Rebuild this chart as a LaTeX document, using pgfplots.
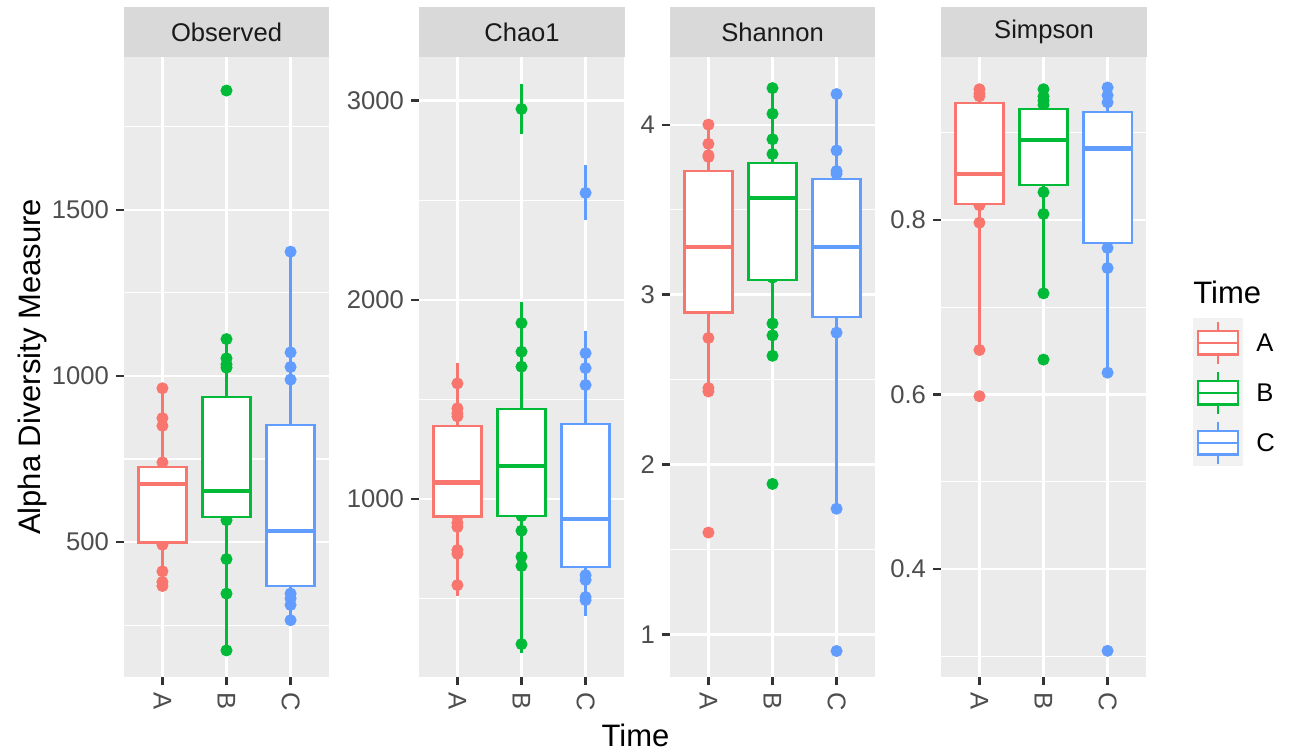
\documentclass[border=0pt]{standalone}
\usepackage{fontspec}
\setmainfont{Liberation Sans}
\usepackage{pgfplots}
\pgfplotsset{compat=1.18}
\definecolor{cA}{HTML}{F8766D}
\definecolor{cB}{HTML}{00BA38}
\definecolor{cC}{HTML}{619CFF}
\definecolor{panelbg}{HTML}{EBEBEB}
\definecolor{stripbg}{HTML}{D9D9D9}
\definecolor{keybg}{HTML}{F2F2F2}
\definecolor{tickc}{HTML}{333333}
\definecolor{labc}{HTML}{4D4D4D}
\definecolor{stript}{HTML}{1A1A1A}
\newcommand{\tickfont}{\fontsize{12.8}{15}\selectfont}
\newcommand{\titlefont}{\fontsize{15.5}{18}\selectfont}
\pgfplotsset{
 panel/.style={
  scale only axis, width=102.5pt, height=310pt, anchor=south west,
  axis background/.style={fill=panelbg},
  axis line style={draw=none},
  clip marker paths=true,
  xmin=0.4, xmax=3.6, xtick={1,2,3}, xticklabels={A,B,C},
  tick pos=left, tick align=outside, major tick length=4pt,
  minor tick length=0pt,
  tick style={tickc, line width=1.1pt},
  xmajorgrids, ymajorgrids, yminorgrids,
  major grid style={white, line width=1.1pt},
  minor grid style={white, line width=0.55pt},
  tick label style={font=\tickfont, color=labc},
  xticklabel style={rotate=-90, anchor=west},
  /pgf/number format/assume math mode=true,
  yticklabel style={/pgf/number format/fixed, /pgf/number format/1000 sep={}},
 },
 pts/.style={only marks, mark=*, mark size=2.8pt, color=#1, mark options={solid, fill=#1, draw=#1}},
 ebpts/.style={pts=#1, error bars/.cd, y dir=both, y explicit,
   error bar style={#1, line width=1.1pt},
   error mark options={#1, line width=1.1pt, mark size=1.6pt}},
}
% box: color, left, centre, right, lower whisker, lower quartile, median, upper quartile, upper whisker
\newcommand{\bx}[9]{%
 \addplot[#1, line width=1.1pt] coordinates {(#3,#5)(#3,#6)};
 \addplot[#1, line width=1.1pt] coordinates {(#3,#8)(#3,#9)};
 \addplot[draw=#1, fill=white, line width=1.1pt] coordinates {(#2,#6)(#4,#6)(#4,#8)(#2,#8)} -- cycle;
 \addplot[#1, line width=2.2pt] coordinates {(#2,#7)(#4,#7)};
}
\begin{document}
\begin{tikzpicture}

% ---------------- Observed ----------------
\begin{axis}[panel, at={(62pt,39pt)}, ymin=94, ymax=1960,
  ytick={500,1000,1500}, minor ytick={250,750,1250,1750}]
\addplot[pts=cA] coordinates {(1,963)(1,873)(1,850)(1,740)(1,720)(1,700)(1,680)(1,660)(1,620)(1,580)(1,540)(1,500)(1,492)(1,412)(1,380)(1,368)};
\addplot[pts=cB] coordinates {(2,1859)(2,1111)(2,1053)(2,1035)(2,1025)(2,900)(2,800)(2,700)(2,653)(2,620)(2,590)(2,566)(2,449)(2,345)(2,174)};
\addplot[pts=cC] coordinates {(3,1374)(3,1071)(3,1027)(3,989)(3,800)(3,700)(3,600)(3,533)(3,450)(3,400)(3,345)(3,330)(3,311)(3,265)};
\bx{cA}{0.625}{1}{1.375}{368}{499}{674}{725}{963}
\bx{cB}{1.625}{2}{2.375}{174}{576}{653}{937}{1111}
\bx{cC}{2.625}{3}{3.375}{265}{368}{533}{853}{1374}
\end{axis}

% ---------------- Chao1 ----------------
\begin{axis}[panel, at={(209.5pt,39pt)}, ymin=107, ymax=3218,
  ytick={1000,2000,3000}, minor ytick={500,1500,2500}]
\addplot[ebpts=cA] coordinates {(1,1580)+-(0,87)(1,1455)+-(0,40)(1,1430)+-(0,45)(1,1415)+-(0,35)(1,1300)+-(0,30)(1,1200)+-(0,30)(1,1085)+-(0,30)(1,1000)+-(0,30)(1,912)+-(0,30)(1,880)+-(0,45)(1,860)+-(0,40)(1,744)+-(0,60)(1,725)+-(0,50)(1,568)+-(0,40)};
\addplot[ebpts=cB] coordinates {(2,2957)+-(0,108)(2,1883)+-(0,92)(2,1739)+-(0,50)(2,1664)+-(0,75)(2,1400)+-(0,40)(2,1300)+-(0,40)(2,1167)+-(0,40)(2,1000)+-(0,40)(2,915)+-(0,30)(2,841)+-(0,40)(2,710)+-(0,50)(2,664)+-(0,60)(2,272)+-(0,30)};
\addplot[ebpts=cC] coordinates {(3,2536)+-(0,122)(3,1732)+-(0,96)(3,1657)+-(0,50)(3,1572)+-(0,65)(3,1300)+-(0,40)(3,1100)+-(0,40)(3,900)+-(0,40)(3,800)+-(0,40)(3,700)+-(0,40)(3,618)+-(0,40)(3,594)+-(0,30)(3,508)+-(0,50)(3,493)+-(0,63)};
\bx{cA}{0.625}{1}{1.375}{568}{912}{1082}{1366}{1580}
\bx{cB}{1.625}{2}{2.375}{272}{914}{1167}{1452}{1883}
\bx{cC}{2.625}{3}{3.375}{493}{657}{900}{1376}{1732}
\end{axis}

% ---------------- Shannon ----------------
\begin{axis}[panel, at={(335pt,39pt)}, ymin=0.75, ymax=4.398,
  ytick={1,2,3,4}, minor ytick={1.5,2.5,3.5}]
\addplot[pts=cA] coordinates {(1,4.0)(1,3.887)(1,3.82)(1,3.81)(1,3.6)(1,3.4)(1,3.28)(1,3.1)(1,2.95)(1,2.745)(1,2.45)(1,2.43)(1,1.6)};
\addplot[pts=cB] coordinates {(2,4.215)(2,4.064)(2,3.914)(2,3.827)(2,3.7)(2,3.57)(2,3.3)(2,3.1)(2,2.83)(2,2.76)(2,2.64)(2,1.886)};
\addplot[pts=cC] coordinates {(3,4.18)(3,3.848)(3,3.727)(3,3.71)(3,3.5)(3,3.28)(3,3.0)(3,2.776)(3,1.74)(3,0.903)};
\bx{cA}{0.625}{1}{1.375}{2.43}{2.895}{3.28}{3.727}{4.0}
\bx{cB}{1.625}{2}{2.375}{2.64}{3.086}{3.57}{3.774}{4.215}
\bx{cC}{2.625}{3}{3.375}{1.74}{2.868}{3.28}{3.682}{4.18}
\end{axis}

% ---------------- Simpson ----------------
\begin{axis}[panel, at={(470.5pt,39pt)}, ymin=0.276, ymax=0.987,
  ytick={0.4,0.6,0.8}, minor ytick={0.3,0.5,0.7,0.9},
  yticklabel style={/pgf/number format/fixed zerofill, /pgf/number format/precision=1}]
\addplot[pts=cA] coordinates {(1,0.950)(1,0.945)(1,0.942)(1,0.9)(1,0.853)(1,0.83)(1,0.817)(1,0.797)(1,0.651)(1,0.598)};
\addplot[pts=cB] coordinates {(2,0.950)(2,0.942)(2,0.937)(2,0.932)(2,0.9)(2,0.892)(2,0.86)(2,0.832)(2,0.807)(2,0.716)(2,0.640)};
\addplot[pts=cC] coordinates {(3,0.952)(3,0.943)(3,0.935)(3,0.9)(3,0.882)(3,0.8)(3,0.768)(3,0.745)(3,0.625)(3,0.306)};
\bx{cA}{0.625}{1}{1.375}{0.651}{0.818}{0.853}{0.9345}{0.950}
\bx{cB}{1.625}{2}{2.375}{0.716}{0.840}{0.892}{0.927}{0.950}
\bx{cC}{2.625}{3}{3.375}{0.625}{0.7735}{0.882}{0.924}{0.952}
\end{axis}

% ---------------- strips ----------------
\foreach \xl/\xr/\lab in {62/164.5/Observed, 209.5/312.5/Chao1, 335/437.5/Shannon, 470.5/573.5/Simpson}{
  \fill[stripbg] (\xl pt,349pt) rectangle (\xr pt,374pt);
  \node[text=stript, font=\tickfont, inner sep=0pt] at ({(\xl+\xr)/2*1pt},361.5pt) {\lab};
}

% ---------------- axis titles ----------------
\node[font=\titlefont, rotate=90, inner sep=0pt] at (16pt,194pt) {Alpha Diversity Measure};
\node[font=\titlefont, anchor=base, inner sep=0pt] at (317.75pt,4.5pt) {Time};

% ---------------- legend ----------------
\node[font=\titlefont, anchor=west, inner sep=0pt] at (596.5pt,231.5pt) {Time};
\fill[keybg] (596.5pt,144.5pt) rectangle (621.5pt,218.5pt);
\foreach \cy/\col/\lab in {206/cA/A, 181/cB/B, 156/cC/C}{
  \draw[\col, line width=1.1pt] (609pt,\cy pt-10.3pt) -- (609pt,\cy pt+10.3pt);
  \filldraw[draw=\col, fill=white, line width=1.1pt] (599pt,\cy pt-5.8pt) rectangle (619pt,\cy pt+5.8pt);
  \draw[\col, line width=1.1pt] (599pt,\cy pt) -- (619pt,\cy pt);
  \node[font=\tickfont, anchor=west, inner sep=0pt, text=black] at (628pt,\cy pt) {\lab};
}
\path (0,0) rectangle (647pt,377.5pt);
\end{tikzpicture}
\end{document}
